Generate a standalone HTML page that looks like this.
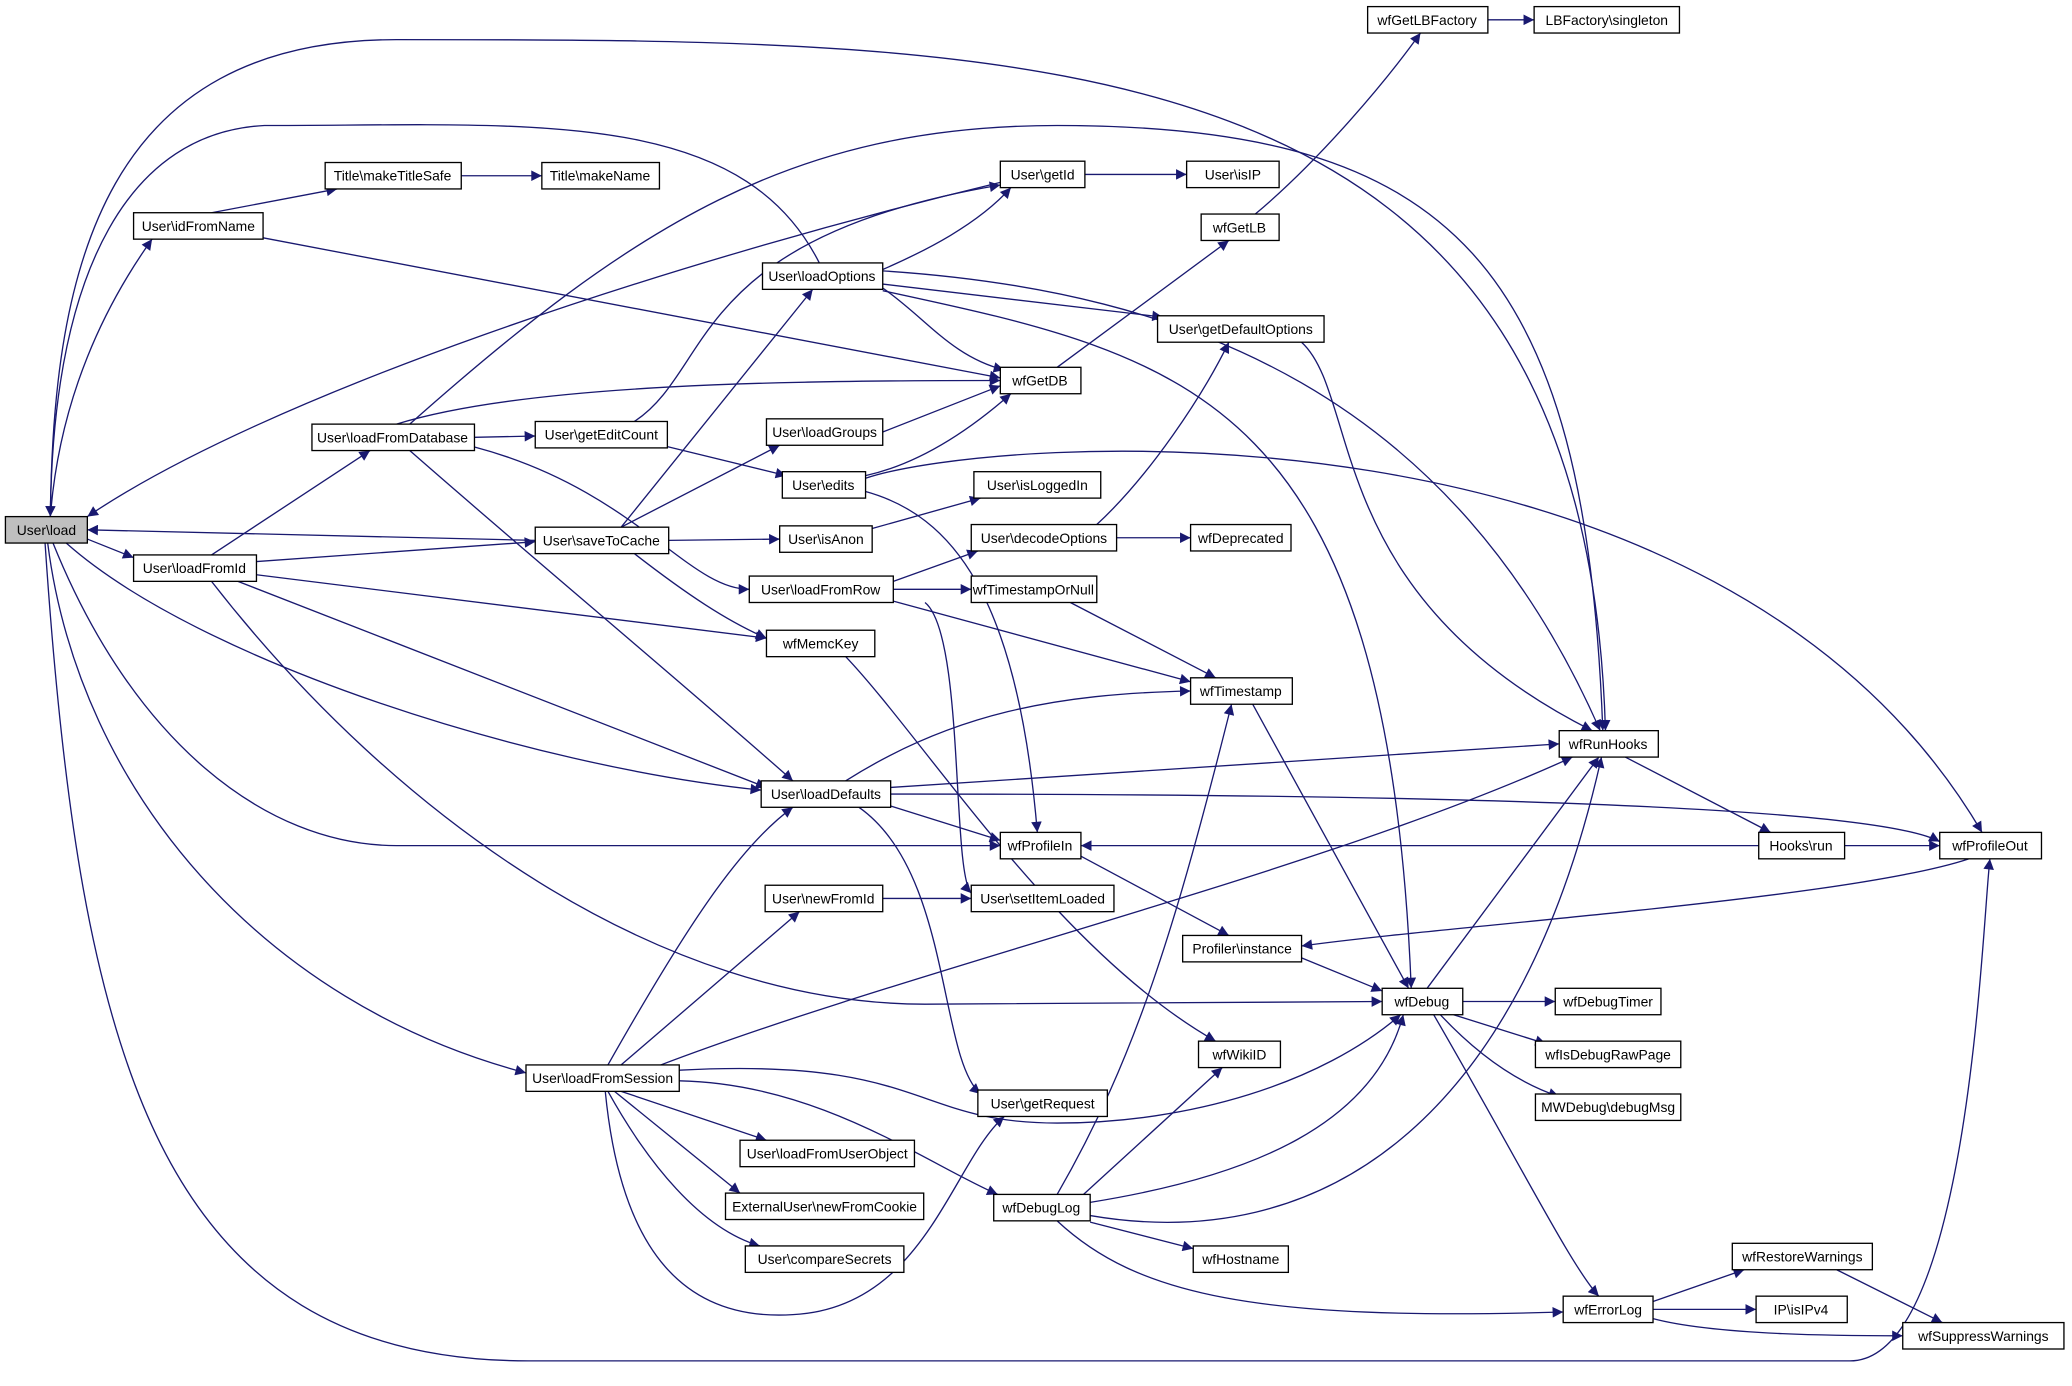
<!DOCTYPE html>
<html><head><meta charset="utf-8"><style>
html,body{margin:0;padding:0;background:#fff;}
svg{display:block;}
text{font-family:"Liberation Sans",sans-serif;font-size:10.5px;text-anchor:middle;dominant-baseline:central;}
.n{fill:#fff;stroke:#000;stroke-width:1;}
.e{fill:none;stroke:#191970;stroke-width:1;marker-end:url(#a);}
</style></head><body>
<svg width="2072" height="1386" viewBox="0 0 1568 1049" xmlns="http://www.w3.org/2000/svg">
<defs><marker id="a" viewBox="0 0 10 10" refX="10" refY="5" markerWidth="10" markerHeight="8" markerUnits="userSpaceOnUse" orient="auto"><path d="M0,0 L10,5 L0,10 z" fill="#191970"/></marker></defs>
<g>
<path class="e" d="M38,391 C45,300 80,230 115,181"/>
<path class="e" d="M66,408 L101,422"/>
<path class="e" d="M405,409 L66,401"/>
<path class="e" d="M757,138 C500,200 200,300 66,391"/>
<path class="e" d="M620,199 C560,80 400,95 200,95 C100,100 40,200 38,391"/>
<path class="e" d="M38,391 C40,200 80,30 300,30 C800,30 1200,30 1215,553"/>
<path class="e" d="M50,411 C150,500 400,580 576,598"/>
<path class="e" d="M40,411 C100,560 200,640 300,640 L757,640"/>
<path class="e" d="M36,411 C60,600 200,760 398,812"/>
<path class="e" d="M34,411 C60,800 120,1030 400,1030 L1400,1030 C1490,1030 1500,700 1506,650"/>
<path class="e" d="M160,161 L255,143"/>
<path class="e" d="M349,133 L410,133"/>
<path class="e" d="M199,180 L757,286"/>
<path class="e" d="M300,321 C400,290 600,288 757,288"/>
<path class="e" d="M359,331 L405,330"/>
<path class="e" d="M310,321 C480,170 600,95 800,95 C1100,95 1200,200 1213,553"/>
<path class="e" d="M310,341 C400,420 520,520 600,591"/>
<path class="e" d="M358,338 C480,370 520,446 567,446"/>
<path class="e" d="M480,319 C540,280 520,180 757,140"/>
<path class="e" d="M194,425 L405,410"/>
<path class="e" d="M194,435 L580,483"/>
<path class="e" d="M180,440 L580,596"/>
<path class="e" d="M160,440 C300,620 500,760 700,760 L1046,758"/>
<path class="e" d="M160,420 L280,341"/>
<path class="e" d="M470,399 L615,219"/>
<path class="e" d="M506,409 L590,408"/>
<path class="e" d="M480,419 C520,450 550,470 580,483"/>
<path class="e" d="M470,399 L590,337"/>
<path class="e" d="M505,338 L595,360"/>
<path class="e" d="M668,204 C700,190 740,170 765,142"/>
<path class="e" d="M668,205 C900,220 1100,300 1211,553"/>
<path class="e" d="M668,215 L880,240"/>
<path class="e" d="M668,218 C700,240 720,270 760,280"/>
<path class="e" d="M668,220 C900,270 1050,300 1068,748"/>
<path class="e" d="M668,327 L757,292"/>
<path class="e" d="M655,360 C700,350 740,320 765,298"/>
<path class="e" d="M655,362 C750,330 1300,290 1500,630"/>
<path class="e" d="M655,372 C720,390 770,450 785,630"/>
<path class="e" d="M660,400 L742,377"/>
<path class="e" d="M676,440 L740,417"/>
<path class="e" d="M676,446 L735,446"/>
<path class="e" d="M676,455 L901,516"/>
<path class="e" d="M700,456 C730,480 720,660 735,676"/>
<path class="e" d="M830,397 C870,360 910,300 930,259"/>
<path class="e" d="M845,407 L901,407"/>
<path class="e" d="M810,456 L920,513"/>
<path class="e" d="M985,259 C1030,300 1000,450 1205,553"/>
<path class="e" d="M800,278 L930,182"/>
<path class="e" d="M950,162 C1000,120 1050,60 1075,25"/>
<path class="e" d="M1126,15 L1161,15"/>
<path class="e" d="M821,132 L898,132"/>
<path class="e" d="M640,497 C700,560 800,720 920,788"/>
<path class="e" d="M640,591 C720,540 800,525 901,523"/>
<path class="e" d="M674,596 L1180,563"/>
<path class="e" d="M674,601 C800,601 1400,600 1468,637"/>
<path class="e" d="M674,610 L757,636"/>
<path class="e" d="M650,611 C720,660 710,800 742,828"/>
<path class="e" d="M1230,573 L1340,630"/>
<path class="e" d="M1331,640 L818,640"/>
<path class="e" d="M1396,640 L1468,640"/>
<path class="e" d="M1490,650 C1400,680 1100,700 985,716"/>
<path class="e" d="M818,648 L930,708"/>
<path class="e" d="M985,725 L1046,750"/>
<path class="e" d="M948,533 L1066,748"/>
<path class="e" d="M1080,748 L1210,573"/>
<path class="e" d="M1107,758 L1177,758"/>
<path class="e" d="M1100,768 L1170,790"/>
<path class="e" d="M1090,768 C1120,800 1150,820 1180,830"/>
<path class="e" d="M1085,768 C1150,880 1190,960 1210,981"/>
<path class="e" d="M668,680 L735,680"/>
<path class="e" d="M460,806 C520,700 560,640 600,611"/>
<path class="e" d="M470,806 L605,690"/>
<path class="e" d="M500,806 C700,730 1000,660 1190,573"/>
<path class="e" d="M514,810 C700,800 690,850 800,850 C900,850 1000,820 1060,768"/>
<path class="e" d="M470,826 L580,863"/>
<path class="e" d="M465,826 L560,903"/>
<path class="e" d="M460,826 C490,880 530,930 575,943"/>
<path class="e" d="M458,826 C470,950 520,1000 600,995 C700,990 720,880 760,845"/>
<path class="e" d="M514,818 C620,820 700,880 755,904"/>
<path class="e" d="M800,904 C860,800 890,700 932,533"/>
<path class="e" d="M820,904 L925,808"/>
<path class="e" d="M825,910 C950,890 1040,850 1062,768"/>
<path class="e" d="M825,920 C1000,950 1150,850 1212,573"/>
<path class="e" d="M825,925 L903,945"/>
<path class="e" d="M800,924 C860,980 950,1000 1183,993"/>
<path class="e" d="M1251,985 L1320,961"/>
<path class="e" d="M1251,991 L1329,991"/>
<path class="e" d="M1251,998 C1300,1011 1400,1011 1440,1011"/>
<path class="e" d="M1390,961 L1470,1001"/>
</g>
<g>
<rect x="4" y="391" width="62" height="20" fill="#bfbfbf" stroke="#000"/><text x="35" y="401">User\load</text>
<rect class="n" x="101" y="161" width="98" height="20"/><text x="150" y="171">User\idFromName</text>
<rect class="n" x="246" y="123" width="103" height="20"/><text x="297" y="133">Title\makeTitleSafe</text>
<rect class="n" x="410" y="123" width="89" height="20"/><text x="454" y="133">Title\makeName</text>
<rect class="n" x="236" y="321" width="123" height="20"/><text x="297" y="331">User\loadFromDatabase</text>
<rect class="n" x="101" y="420" width="93" height="20"/><text x="147" y="430">User\loadFromId</text>
<rect class="n" x="398" y="806" width="116" height="20"/><text x="456" y="816">User\loadFromSession</text>
<rect class="n" x="405" y="319" width="100" height="20"/><text x="455" y="329">User\getEditCount</text>
<rect class="n" x="405" y="399" width="101" height="20"/><text x="455" y="409">User\saveToCache</text>
<rect class="n" x="577" y="199" width="91" height="20"/><text x="622" y="209">User\loadOptions</text>
<rect class="n" x="757" y="122" width="64" height="20" stroke="#f00"/><text x="789" y="132">User\getId</text>
<rect class="n" x="898" y="122" width="70" height="20" stroke="#f00"/><text x="933" y="132">User\isIP</text>
<rect class="n" x="1035" y="5" width="91" height="20"/><text x="1080" y="15">wfGetLBFactory</text>
<rect class="n" x="1161" y="5" width="110" height="20"/><text x="1216" y="15">LBFactory\singleton</text>
<rect class="n" x="909" y="162" width="59" height="20"/><text x="938" y="172">wfGetLB</text>
<rect class="n" x="876" y="239" width="126" height="20" stroke="#f00"/><text x="939" y="249">User\getDefaultOptions</text>
<rect class="n" x="757" y="278" width="61" height="20"/><text x="787" y="288">wfGetDB</text>
<rect class="n" x="580" y="317" width="88" height="20"/><text x="624" y="327">User\loadGroups</text>
<rect class="n" x="592" y="357" width="63" height="20"/><text x="623" y="367">User\edits</text>
<rect class="n" x="737" y="357" width="96" height="20"/><text x="785" y="367">User\isLoggedIn</text>
<rect class="n" x="590" y="398" width="70" height="20"/><text x="625" y="408">User\isAnon</text>
<rect class="n" x="735" y="397" width="110" height="20"/><text x="790" y="407">User\decodeOptions</text>
<rect class="n" x="901" y="397" width="76" height="20" stroke="#f00"/><text x="939" y="407">wfDeprecated</text>
<rect class="n" x="567" y="436" width="109" height="20"/><text x="621" y="446">User\loadFromRow</text>
<rect class="n" x="735" y="436" width="95" height="20"/><text x="782" y="446">wfTimestampOrNull</text>
<rect class="n" x="580" y="477" width="82" height="20"/><text x="621" y="487">wfMemcKey</text>
<rect class="n" x="901" y="513" width="77" height="20"/><text x="939" y="523">wfTimestamp</text>
<rect class="n" x="1180" y="553" width="75" height="20"/><text x="1217" y="563">wfRunHooks</text>
<rect class="n" x="576" y="591" width="98" height="20"/><text x="625" y="601">User\loadDefaults</text>
<rect class="n" x="757" y="630" width="61" height="20"/><text x="787" y="640">wfProfileIn</text>
<rect class="n" x="1331" y="630" width="65" height="20"/><text x="1363" y="640">Hooks\run</text>
<rect class="n" x="1468" y="630" width="77" height="20"/><text x="1506" y="640">wfProfileOut</text>
<rect class="n" x="579" y="670" width="89" height="20"/><text x="623" y="680">User\newFromId</text>
<rect class="n" x="735" y="670" width="108" height="20"/><text x="789" y="680">User\setItemLoaded</text>
<rect class="n" x="895" y="708" width="90" height="20"/><text x="940" y="718">Profiler\instance</text>
<rect class="n" x="1046" y="748" width="61" height="20"/><text x="1076" y="758">wfDebug</text>
<rect class="n" x="1177" y="748" width="80" height="20"/><text x="1217" y="758">wfDebugTimer</text>
<rect class="n" x="1162" y="788" width="110" height="20"/><text x="1217" y="798">wfIsDebugRawPage</text>
<rect class="n" x="1162" y="828" width="110" height="20"/><text x="1217" y="838">MWDebug\debugMsg</text>
<rect class="n" x="907" y="788" width="62" height="20"/><text x="938" y="798">wfWikiID</text>
<rect class="n" x="740" y="825" width="98" height="20"/><text x="789" y="835">User\getRequest</text>
<rect class="n" x="560" y="863" width="132" height="20"/><text x="626" y="873">User\loadFromUserObject</text>
<rect class="n" x="549" y="903" width="150" height="20"/><text x="624" y="913">ExternalUser\newFromCookie</text>
<rect class="n" x="564" y="943" width="120" height="20"/><text x="624" y="953">User\compareSecrets</text>
<rect class="n" x="752" y="904" width="73" height="20"/><text x="788" y="914">wfDebugLog</text>
<rect class="n" x="903" y="943" width="72" height="20"/><text x="939" y="953">wfHostname</text>
<rect class="n" x="1311" y="941" width="106" height="20"/><text x="1364" y="951">wfRestoreWarnings</text>
<rect class="n" x="1329" y="981" width="69" height="20"/><text x="1363" y="991">IP\isIPv4</text>
<rect class="n" x="1183" y="981" width="68" height="20"/><text x="1217" y="991">wfErrorLog</text>
<rect class="n" x="1440" y="1001" width="122" height="20"/><text x="1501" y="1011">wfSuppressWarnings</text>
</g>
</svg>
</body></html>
